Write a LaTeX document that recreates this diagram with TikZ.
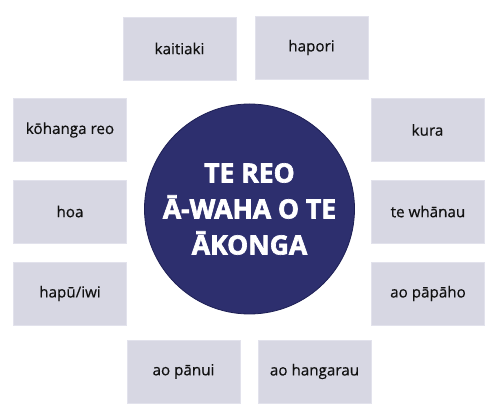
\documentclass[tikz,border=0pt]{standalone}
\usepackage{fontspec}
\setmainfont{Open Sans}[FakeBold=0.4]
\newfontfamily\itemfont{Open Sans}[FakeBold=0.5]
\newfontfamily\titlefont{Open Sans}[UprightFont={* Bold}, FakeBold=2.5]
\definecolor{boxfill}{HTML}{D7D7E3}
\definecolor{boxedge}{HTML}{E2E2EC}
\definecolor{navy}{HTML}{2D2F6E}
\definecolor{navyedge}{HTML}{1E2055}
\definecolor{txt}{HTML}{111111}
\begin{document}
\begin{tikzpicture}[x=1pt,y=1pt,
  item/.style={rectangle, fill=boxfill, draw=boxedge, line width=0.6pt,
    minimum width=113pt, minimum height=63pt, inner sep=0pt,
    text=txt, font=\itemfont\fontsize{15.2}{17}\selectfont},
  hub/.style={circle, fill=navy, draw=navyedge, line width=0.8pt,
    minimum size=210pt, inner sep=0pt, text=white, align=center,
    font=\titlefont\fontsize{26.5}{36}\selectfont}]
\useasboundingbox (0,0) rectangle (500,419);
\node[hub] (c) at (249.5,210) {TE REO\\Ā-WAHA O TE\\ĀKONGA};
\node[item] (kaitiaki) at (179.5,370.5) {kaitiaki};
\node[item] (hapori) at (311.5,371.5) {hapori};
\node[item] (kohanga) at (70,289) {kōhanga reo};
\node[item] (kura) at (427.5,289) {kura};
\node[item] (hoa) at (70,207.5) {hoa};
\node[item] (whanau) at (428,207.5) {te whānau};
\node[item] (hapu) at (70,125.5) {hapū/iwi};
\node[item] (papaho) at (428,125.5) {ao pāpāho};
\node[item] (panui) at (183.5,47.5) {ao pānui};
\node[item] (hangarau) at (314.5,47.5) {ao hangarau};
\end{tikzpicture}
\end{document}
